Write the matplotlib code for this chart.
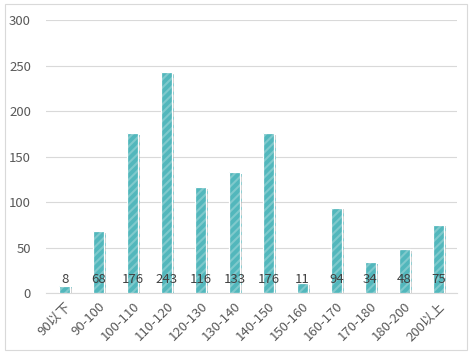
import numpy as np
import matplotlib
matplotlib.use("Agg")
import matplotlib.pyplot as plt
import matplotlib.patheffects as pe
from matplotlib.patches import Rectangle

plt.rcParams['font.family'] = ['Noto Sans CJK SC', 'DejaVu Sans']
plt.rcParams['hatch.linewidth'] = 1.5

categories = ["90以下", "90-100", "100-110", "110-120", "120-130", "130-140",
              "140-150", "150-160", "160-170", "170-180", "180-200", "200以上"]
counts = [8, 68, 176, 243, 116, 133, 176, 11, 94, 34, 48, 75]
yticks = [0, 50, 100, 150, 200, 250, 300]

fig = plt.figure(figsize=(4.71, 3.57), dpi=100)
ax = fig.add_axes([0.098, 0.179, 0.872, 0.765])

x = np.arange(len(categories))
# hatched fill (hatch takes the edge colour), then a white outline on top
fill = ax.bar(x, counts, width=0.32, color="#52B7BC", edgecolor="#7FC9CC",
              linewidth=0, hatch="////", zorder=3)
for b in fill:
    b.set_path_effects([pe.SimplePatchShadow(offset=(1.5, -1.2), shadow_rgbFace="#909090", alpha=0.45),
                        pe.Normal()])
ax.bar(x, counts, width=0.32, fill=False, edgecolor="white", linewidth=0.9, zorder=3.5)

for xi, v in zip(x, counts):
    ax.text(xi, 15, str(v), ha="center", va="center", fontsize=9.5,
            color="#404040", zorder=4)

ax.set_ylim(0, 300)
ax.set_xlim(-0.55, len(categories) - 0.45)
ax.set_yticks(yticks)
ax.set_xticks(x)
ax.set_xticklabels(categories, rotation=45, ha="right", rotation_mode="anchor")
ax.tick_params(axis="both", length=0, labelsize=9.5, colors="#595959")
ax.tick_params(axis="y", pad=11)
ax.tick_params(axis="x", pad=5)
ax.grid(axis="y", color="#D9D9D9", linewidth=0.8, zorder=0)
for s in ["top", "right", "left"]:
    ax.spines[s].set_visible(False)
ax.spines["bottom"].set_color("#D9D9D9")
ax.spines["bottom"].set_linewidth(0.8)

fig.patches.append(Rectangle((5 / 471, 7 / 357), 462 / 471, 346 / 357,
                             transform=fig.transFigure, fill=False,
                             edgecolor="#D9D9D9", linewidth=0.8))

fig.savefig("out.png", dpi=100)
